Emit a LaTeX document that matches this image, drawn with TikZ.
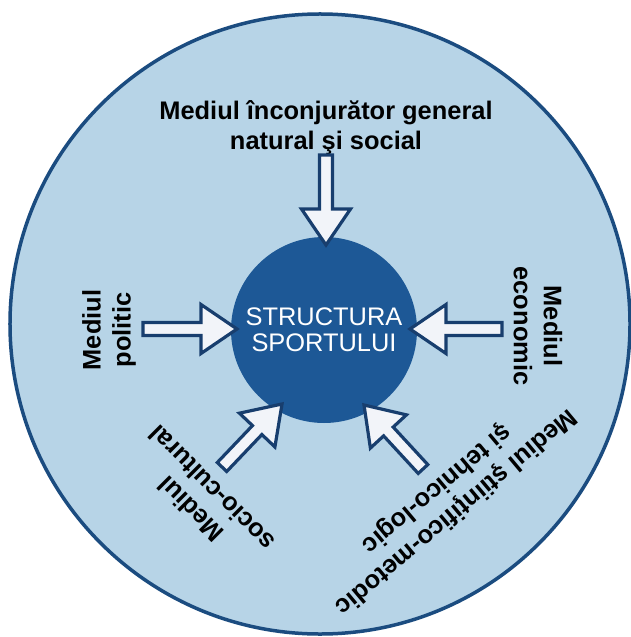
\documentclass[tikz,border=0pt]{standalone}
\usepackage{fontspec}
\setmainfont{Liberation Sans}
\usetikzlibrary{calc}
\usetikzlibrary{positioning}

\definecolor{ringblue}{RGB}{27,76,128}
\definecolor{paleblue}{RGB}{183,212,231}
\definecolor{coreblue}{RGB}{29,88,150}
\definecolor{arrowblue}{RGB}{24,62,110}
\definecolor{arrowfill}{RGB}{242,244,249}

\tikzset{
  lbl/.style={font=\fontsize{25.5}{30}\selectfont\bfseries, align=center, inner sep=0pt, text=black},
  flow/.style={draw=arrowblue, line width=3.2bp, fill=arrowfill, line join=miter}
}

% block arrow from #1 (tail) to #2 (tip)
\newcommand{\blockarrow}[2]{%
  \coordinate (#1h) at ($(#2)!36bp!(#1)$);
  \draw[flow] ($(#1)!6.5bp!90:(#2)$) -- ($(#1h)!6.5bp!90:(#2)$)
    -- ($(#1h)!24.5bp!90:(#2)$) -- (#2)
    -- ($(#1h)!24.5bp!-90:(#2)$) -- ($(#1h)!6.5bp!-90:(#2)$)
    -- ($(#1)!6.5bp!-90:(#2)$) -- cycle;
}

\begin{document}
\begin{tikzpicture}[x=1bp,y=-1bp]
\useasboundingbox (0,0) rectangle (631,637);
\fill[white] (0,0) rectangle (631,637);
\draw[ringblue, line width=3.5bp, fill=paleblue] (320,324) circle (310bp);

\node[circle, fill=coreblue, minimum size=186bp, inner sep=0pt,
      text=white, align=center, font=\fontsize{25.5}{26.5}\selectfont] (core) at (324,330)
      {STRUCTURA\\SPORTULUI};

\node[lbl] (natural) at (326,128) {Mediul înconjurător general\\natural şi social};
\node[lbl, rotate=90] (politic) at (109,330) {Mediul\\politic};
\node[lbl, rotate=-90] (economic) at (538,326) {Mediul\\economic};
\node[lbl, rotate=135] (socio) at (201,499) {Mediul\\socio-cultural};
\node[lbl, rotate=-140] (stiinta) at (446,500) {Mediul ştiinţifico-metodic\\şi tehnico-logic};

\coordinate (ntail) at (326,155);
\coordinate (wtail) at (143,329);
\coordinate (etail) at (502,329);
\coordinate (swtail) at (222,467);
\coordinate (setail) at (423,469);

\coordinate (ntip) at ($(core.center)+(2,-85)$);
\coordinate (wtip) at ($(core.center)+(-87,-1)$);
\coordinate (etip) at ($(core.center)+(86,-1)$);
\coordinate (swtip) at ($(core.center)+(-42,74)$);
\coordinate (setip) at ($(core.center)+(40,75)$);

\blockarrow{ntail}{ntip}
\blockarrow{wtail}{wtip}
\blockarrow{etail}{etip}
\blockarrow{swtail}{swtip}
\blockarrow{setail}{setip}
\end{tikzpicture}
\end{document}
